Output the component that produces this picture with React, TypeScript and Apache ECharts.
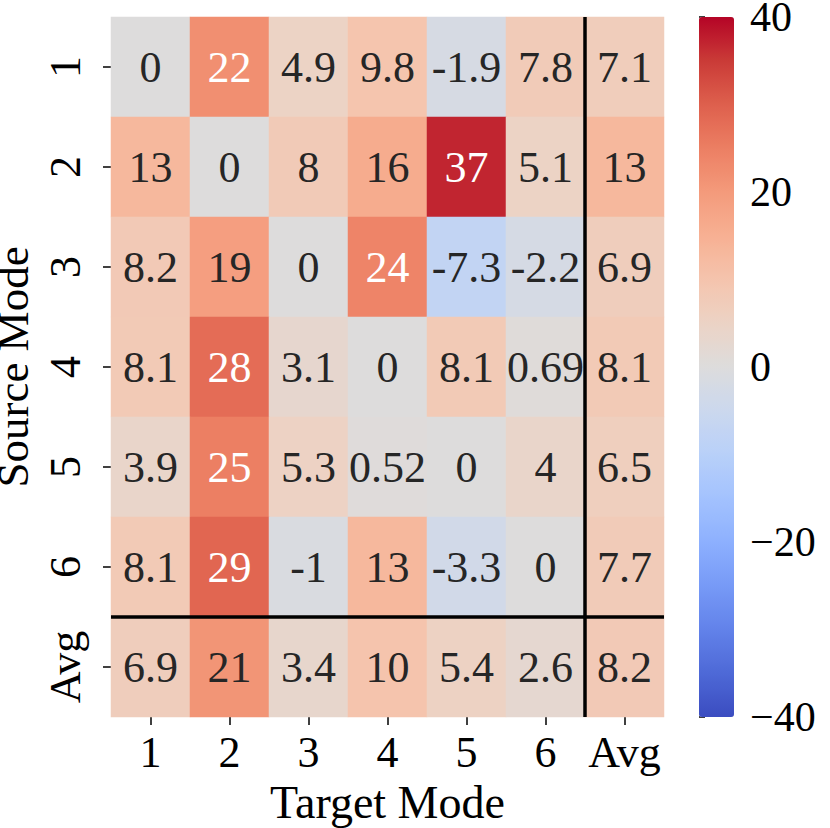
import React, { useEffect, useRef } from "react";
import * as echarts from "echarts";

const targetModes = ["1", "2", "3", "4", "5", "6", "Avg"];
const sourceModes = ["1", "2", "3", "4", "5", "6", "Avg"];

const row1 = [0, 22, 4.9, 9.8, -1.9, 7.8, 7.1];
const row2 = [13, 0, 8, 16, 37, 5.1, 13];
const row3 = [8.2, 19, 0, 24, -7.3, -2.2, 6.9];
const row4 = [8.1, 28, 3.1, 0, 8.1, 0.69, 8.1];
const row5 = [3.9, 25, 5.3, 0.52, 0, 4, 6.5];
const row6 = [8.1, 29, -1, 13, -3.3, 0, 7.7];
const rowAvg = [6.9, 21, 3.4, 10, 5.4, 2.6, 8.2];
const rows = [row1, row2, row3, row4, row5, row6, rowAvg];

const colorbarTicks = [-40, -20, 0, 20, 40];
const vmin = -40;
const vmax = 40;

// matplotlib "coolwarm" samples
const coolwarm = [
  "#3b4cc0", "#4e69d7", "#6282ea", "#779af7", "#8db0fe", "#a3c2fe",
  "#b8d0f9", "#cbd8ee", "#dddcdc", "#ecd3c5", "#f5c4ad", "#f7b093",
  "#f49a7b", "#ec7f63", "#de604d", "#ca3b37", "#b40426",
];

const FONT = "'Liberation Serif', 'DejaVu Serif', serif";
const FS = 44;

function hexToRgb(h: string) {
  const n = parseInt(h.slice(1), 16);
  return [(n >> 16) & 255, (n >> 8) & 255, n & 255];
}
function colorFor(v: number) {
  const t = Math.max(0, Math.min(1, (v - vmin) / (vmax - vmin)));
  const p = t * (coolwarm.length - 1);
  const i = Math.min(coolwarm.length - 2, Math.floor(p));
  const f = p - i;
  const a = hexToRgb(coolwarm[i]);
  const b = hexToRgb(coolwarm[i + 1]);
  return a.map((c, k) => c + (b[k] - c) * f);
}
function luminance(rgb: number[]) {
  const lin = rgb.map((c) => {
    const s = c / 255;
    return s <= 0.03928 ? s / 12.92 : Math.pow((s + 0.055) / 1.055, 2.4);
  });
  return 0.2126 * lin[0] + 0.7152 * lin[1] + 0.0722 * lin[2];
}
function fmt(v: number) {
  return String(v);
}

export default function App() {
  const ref = useRef<HTMLDivElement>(null);
  useEffect(() => {
    if (!ref.current) return;
    const chart = echarts.init(ref.current, undefined, { renderer: "svg" });
    const data: any[] = [];
    rows.forEach((r, y) =>
      r.forEach((v, x) => {
        const lum = luminance(colorFor(v));
        data.push({
          value: [x, y, v],
          label: { color: lum < 0.408 ? "#ffffff" : "#262626" },
        });
      })
    );
    const option: any = {
      animation: false,
      backgroundColor: "#ffffff",
      textStyle: { fontFamily: FONT },
      grid: [
        { left: 111, top: 17, width: 553, height: 700, containLabel: false, outerBoundsMode: "none" },
        { left: 699, top: 17, width: 35, height: 700, containLabel: false, outerBoundsMode: "none" },
      ],
      xAxis: [
        {
          type: "category",
          gridIndex: 0,
          data: targetModes,
          position: "bottom",
          name: "Target Mode",
          nameLocation: "middle",
          nameGap: 63,
          nameTextStyle: { fontFamily: FONT, fontSize: 46, lineHeight: 44, color: "#000" },
          axisLine: { show: false },
          axisTick: { show: true, alignWithLabel: true, interval: 0, length: 8, lineStyle: { color: "#000", width: 1.5 } },
          axisLabel: { fontFamily: FONT, fontSize: FS, color: "#000", margin: 13, interval: 0 },
          splitLine: { show: false },
        },
        { type: "value", gridIndex: 1, show: false, min: 0, max: 1 },
      ],
      yAxis: [
        {
          type: "category",
          gridIndex: 0,
          data: sourceModes,
          inverse: true,
          name: "Source Mode",
          nameLocation: "middle",
          nameGap: 74,
          nameTextStyle: { fontFamily: FONT, fontSize: 45, lineHeight: 36, color: "#000" },
          axisLine: { show: false },
          axisTick: { show: true, alignWithLabel: true, interval: 0, length: 8, lineStyle: { color: "#000", width: 1.5 } },
          axisLabel: { fontFamily: FONT, fontSize: FS, color: "#000", rotate: 90, margin: 24, interval: 0 },
          splitLine: { show: false },
        },
        {
          type: "value",
          gridIndex: 1,
          position: "right",
          min: vmin,
          max: vmax,
          interval: 20,
          axisLine: { show: false },
          axisTick: { show: true, length: 6, lineStyle: { color: "#000", width: 1.5 } },
          axisLabel: {
            fontFamily: FONT,
            fontSize: 42,
            lineHeight: 28,
            color: "#000",
            margin: 16,
            formatter: (v: number) =>
              colorbarTicks.includes(v) ? (v < 0 ? "\u2212" + Math.abs(v) : String(v)) : "",
          },
          splitLine: { show: false },
        },
      ],
      visualMap: [
        {
          type: "continuous",
          seriesIndex: 0,
          min: vmin,
          max: vmax,
          calculable: false,
          show: true,
          orient: "vertical",
          left: 699,
          top: 17,
          itemWidth: 35,
          itemHeight: 700,
          padding: 0,
          text: ["", ""],
          showLabel: false,
          inRange: { color: coolwarm },
        },
      ],
      series: [
        {
          type: "heatmap",
          xAxisIndex: 0,
          yAxisIndex: 0,
          data,
          label: {
            show: true,
            fontFamily: FONT,
            fontSize: FS,
            formatter: (p: any) => fmt(p.value[2]),
          },
          itemStyle: { borderWidth: 0 },
          emphasis: { disabled: true },
        },
      ],
    };
    chart.setOption(option);

    // separator lines between the last regular mode and "Avg"
    const c5 = chart.convertToPixel({ gridIndex: 0 } as any, [5, 5]) as number[];
    const c6 = chart.convertToPixel({ gridIndex: 0 } as any, [6, 6]) as number[];
    const c0 = chart.convertToPixel({ gridIndex: 0 } as any, [0, 0]) as number[];
    const stepX = c6[0] - c5[0];
    const stepY = c6[1] - c5[1];
    const bx = (c5[0] + c6[0]) / 2;
    const by = (c5[1] + c6[1]) / 2;
    const left = c0[0] - stepX / 2;
    const right = c6[0] + stepX / 2;
    const top = c0[1] - stepY / 2;
    const bottom = c6[1] + stepY / 2;
    chart.setOption({
      graphic: [
        {
          type: "line",
          shape: { x1: bx, y1: top, x2: bx, y2: bottom },
          style: { stroke: "#000", lineWidth: 3.5 },
          z: 100,
        },
        {
          type: "line",
          shape: { x1: left, y1: by, x2: right, y2: by },
          style: { stroke: "#000", lineWidth: 3.5 },
          z: 100,
        },
      ],
    });
    return () => chart.dispose();
  }, []);
  return (
    <div
      ref={ref}
      style={{ position: "fixed", left: 0, top: 0, width: 830, height: 828 }}
    />
  );
}
